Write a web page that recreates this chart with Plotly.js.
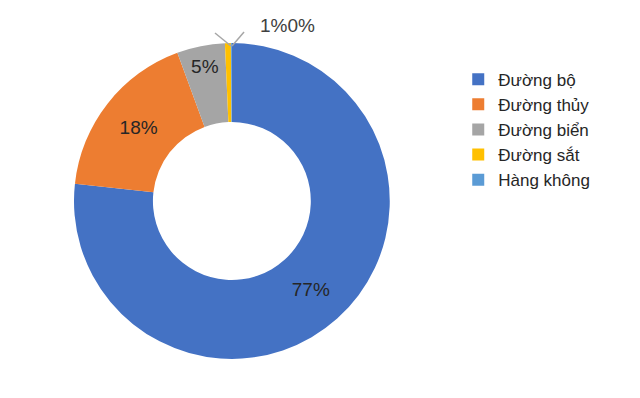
<!DOCTYPE html>
<html>
<head>
<meta charset="utf-8">
<script src="https://cdn.plot.ly/plotly-3.0.1.min.js"></script>
<style>html,body{margin:0;padding:0;background:#fff;}#chart{width:640px;height:398px;}</style>
</head>
<body>
<div id="chart"></div>
<script>
const categories = ['Đường bộ', 'Đường thủy', 'Đường biển', 'Đường sắt', 'Hàng không'];
const shares = [76.6, 17.6, 4.9, 0.6, 0.1];
const colors = ['#4472C4', '#ED7D31', '#A5A5A5', '#FFC000', '#5B9BD5'];
const showInside = [true, true, true, false, false];

const total = shares.reduce((a, b) => a + b, 0);
const pct = v => Math.round(v / total * 100) + '%';
const templates = showInside.map(s => s ? '%{percent:.0%}' : '');
const outsideText = shares.filter((v, i) => !showInside[i]).map(pct).join('');

const FONT = 'Liberation Sans, Arial, sans-serif';

const trace = {
  type: 'pie',
  labels: categories,
  values: shares,
  hole: 0.5,
  sort: false,
  direction: 'clockwise',
  rotation: 0,
  marker: {colors: colors, line: {width: 0}},
  texttemplate: templates,
  textposition: 'inside',
  insidetextorientation: 'horizontal',
  textfont: {family: FONT, size: 19, color: '#262626'},
  domain: {x: [0.1156, 0.609], y: [0.098, 0.892]},
  hoverinfo: 'label+percent'
};

const layout = {
  width: 640, height: 398,
  margin: {l: 0, r: 0, t: 0, b: 0},
  paper_bgcolor: '#fff',
  showlegend: true,
  legend: {
    x: 0.716, y: 0.845, xanchor: 'left', yanchor: 'top',
    font: {family: FONT, size: 17, color: '#262626'},
    itemwidth: 20, tracegroupgap: 0
  },
  shapes: [
    {type: 'line', xref: 'paper', yref: 'paper', x0: 0.3609, y0: 0.8844, x1: 0.3359, y1: 0.9171,
     line: {color: '#A6A6A6', width: 1.5}},
    {type: 'line', xref: 'paper', yref: 'paper', x0: 0.3625, y0: 0.8844, x1: 0.3813, y1: 0.9196,
     line: {color: '#A6A6A6', width: 1.5}}
  ],
  annotations: [
    {xref: 'paper', yref: 'paper', x: 0.449, y: 0.937, xanchor: 'center', yanchor: 'middle',
     text: outsideText, showarrow: false, font: {family: FONT, size: 19, color: '#404040'}}
  ]
};

Plotly.newPlot('chart', [trace], layout, {displayModeBar: false, staticPlot: true});
</script>
</body>
</html>
